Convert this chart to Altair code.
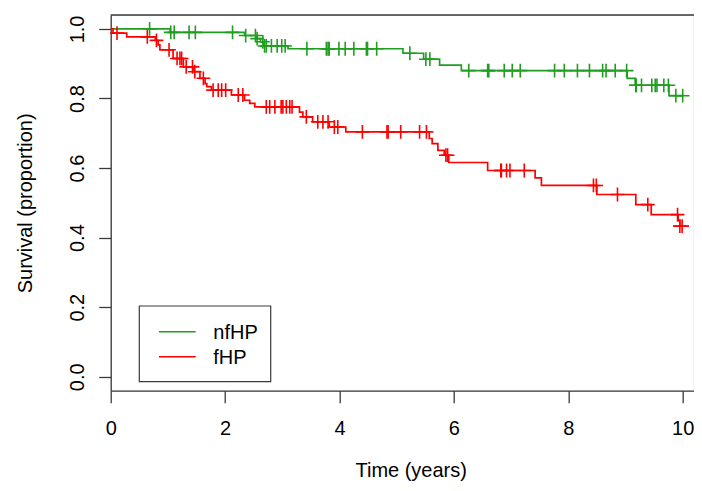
import altair as alt
import pandas as pd

groups = ["nfHP", "fHP"]
colors = ["#1f9e1f", "#ff0000"]

# nfHP (green) Kaplan-Meier steps
nf_event_t = [0, 1.04, 2.34, 2.55, 2.62, 2.68, 3.10, 5.11, 5.47, 5.75, 6.13, 9.03, 9.17, 9.76]
nf_event_s = [1.0, 0.990, 0.981, 0.972, 0.963, 0.951, 0.943, 0.930, 0.913, 0.896, 0.880, 0.858, 0.838, 0.808]
nf_end = 10.0
nf_cens = [0.68, 1.05, 1.11, 1.37, 1.48, 2.13, 2.36, 2.53, 2.56, 2.66, 2.69, 2.72, 2.81, 2.91,
           2.99, 3.05, 3.43, 3.77, 3.80, 3.82, 3.99, 4.10, 4.25, 4.47, 4.49, 4.65, 5.23, 5.51,
           5.58, 6.26, 6.59, 6.61, 6.88, 7.02, 7.16, 7.76, 7.93, 8.16, 8.37, 8.60, 8.66, 8.82,
           9.02, 9.18, 9.19, 9.28, 9.46, 9.52, 9.55, 9.67, 9.75, 9.88, 10.0]

# fHP (red) Kaplan-Meier steps
f_event_t = [0, 0.04, 0.28, 0.78, 0.83, 0.86, 1.09, 1.27, 1.44, 1.56, 1.65, 1.68, 1.76, 2.11,
             2.34, 2.43, 2.52, 3.30, 3.36, 3.53, 3.82, 4.11, 5.57, 5.62, 5.72, 5.83, 5.91, 6.59,
             7.42, 7.53, 8.50, 9.18, 9.45, 9.92, 9.95]
f_event_s = [1.0, 0.988, 0.977, 0.967, 0.954, 0.940, 0.915, 0.891, 0.877, 0.858, 0.843, 0.834,
             0.824, 0.810, 0.795, 0.786, 0.776, 0.761, 0.747, 0.733, 0.718, 0.704, 0.685, 0.670,
             0.651, 0.637, 0.616, 0.593, 0.572, 0.550, 0.524, 0.495, 0.466, 0.449, 0.433]
f_end = 9.99
f_cens = [0.11, 0.64, 0.80, 1.02, 1.16, 1.21, 1.24, 1.32, 1.43, 1.47, 1.62, 1.79, 1.88, 1.94,
          2.01, 2.23, 2.31, 2.72, 2.78, 2.87, 2.98, 3.01, 3.07, 3.13, 3.17, 3.42, 3.62, 3.71,
          3.80, 3.91, 3.97, 4.40, 4.83, 4.85, 5.07, 5.40, 5.52, 5.86, 5.89, 6.82, 6.83, 6.92,
          6.98, 7.23, 8.44, 8.49, 8.86, 9.39, 9.91, 9.95, 9.99]

x_ticks = [0, 2, 4, 6, 8, 10]
y_ticks = [0.0, 0.2, 0.4, 0.6, 0.8, 1.0]


def step_value(ts, ss, t):
    v = ss[0]
    for ti, si in zip(ts, ss):
        if t >= ti:
            v = si
    return v


series = [
    ("nfHP", nf_event_t, nf_event_s, nf_end, nf_cens),
    ("fHP", f_event_t, f_event_s, f_end, f_cens),
]

line_rows, cens_rows = [], []
for g, ts, ss, end, cens in series:
    for t, s in zip(ts, ss):
        line_rows.append({"group": g, "time": t, "surv": s})
    line_rows.append({"group": g, "time": end, "surv": ss[-1]})
    for c in cens:
        cens_rows.append({"group": g, "time": c, "surv": step_value(ts, ss, c)})

lines_df = pd.DataFrame(line_rows)
cens_df = pd.DataFrame(cens_rows)

W = 583
H = 375.7
XMAX = W / 57.2
FONT = "Liberation Sans"
FS = 20
AX = "#3a3a3a"

xscale = alt.Scale(domain=[0, XMAX], nice=False, zero=False)
yscale = alt.Scale(domain=[-0.04, 1.04], nice=False, zero=False)
cscale = alt.Scale(domain=groups, range=colors)

xaxis = alt.Axis(values=x_ticks, format="d", grid=False, tickSize=12, tickColor=AX,
                 tickWidth=1.3, domainColor=AX, domainWidth=1.3, labelFontSize=FS,
                 labelFont=FONT, labelColor="black", labelPadding=16, labelFlush=False,
                 title="Time (years)", titleFont=FONT, titleFontSize=FS,
                 titleFontWeight="normal", titleColor="black", titlePadding=22,
                 titleX=300)
yaxis = alt.Axis(values=y_ticks, format=".1f", grid=False, tickSize=12, tickColor=AX,
                 tickWidth=1.3, domainColor=AX, domainWidth=1.3, labelFontSize=FS,
                 labelFont=FONT, labelColor="black", labelAngle=270, labelAlign="center",
                 labelBaseline="bottom", labelPadding=11, labelFlush=False,
                 title="Survival (proportion)", titleFont=FONT, titleFontSize=FS,
                 titleFontWeight="normal", titleColor="black", titlePadding=32)

lines = alt.Chart(lines_df).mark_line(interpolate="step-after", strokeWidth=1.7).encode(
    x=alt.X("time:Q", scale=xscale, axis=xaxis),
    y=alt.Y("surv:Q", scale=yscale, axis=yaxis),
    color=alt.Color("group:N", scale=cscale, legend=None),
    detail="group:N",
)

cens = alt.Chart(cens_df).mark_point(
    shape="M-1,0H1M0,-1V1", size=190, filled=False, strokeWidth=1.6, opacity=1
).encode(
    x=alt.X("time:Q", scale=xscale),
    y=alt.Y("surv:Q", scale=yscale),
    color=alt.Color("group:N", scale=cscale, legend=None),
)

one = pd.DataFrame({"a": [0]})
top_rule = alt.Chart(one).mark_rule(color=AX, strokeWidth=1.3).encode(
    x=alt.value(0), x2=alt.value(W + 5), y=alt.value(0)
)

leg_box = alt.Chart(one).mark_rect(fill="white", stroke=AX, strokeWidth=1.2).encode(
    x=alt.value(28.6), x2=alt.value(160), y=alt.value(291), y2=alt.value(366.7)
)
leg_layers = [leg_box]
for i, (g, c) in enumerate(zip(groups, colors)):
    yy = 316.7 + 25 * i
    leg_layers.append(
        alt.Chart(one).mark_rule(color=c, strokeWidth=1.4).encode(
            x=alt.value(48.3), x2=alt.value(85), y=alt.value(yy)
        )
    )
    leg_layers.append(
        alt.Chart(one).mark_text(align="left", baseline="middle", font=FONT, fontSize=FS,
                                 color="black").encode(
            x=alt.value(102.6), y=alt.value(yy + 1), text=alt.value(g)
        )
    )

chart = alt.layer(lines, cens, top_rule, *leg_layers).properties(
    width=W, height=H,
    autosize=alt.AutoSizeParams(type="none"),
    padding={"left": 102.7, "top": 7, "right": 0.3, "bottom": 92},
).configure_view(stroke=None).configure(background="white")

chart.save("out.html", embed_options={"renderer": "svg", "actions": False})
